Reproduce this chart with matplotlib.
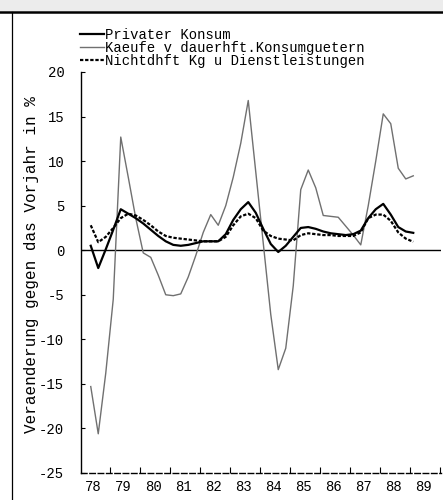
import matplotlib
matplotlib.use("Agg")
import matplotlib.pyplot as plt
from matplotlib.lines import Line2D
from matplotlib.patches import Rectangle
import pandas as pd

plt.rcParams['font.family'] = ['Liberation Mono', 'DejaVu Sans Mono']
plt.rcParams['axes.unicode_minus'] = False

# Quarterly observations 1978Q2 .. 1989Q1
first_quarter = '1978Q2'
last_quarter = '1989Q1'

privater_konsum = [0.5, -2.0, 0.1, 2.3, 4.6, 4.1, 3.6, 3.0, 2.3, 1.6,
                   1.0, 0.6, 0.5, 0.6, 0.8, 1.0, 1.0, 1.0, 1.8, 3.4,
                   4.6, 5.4, 4.2, 2.4, 0.7, -0.2, 0.5, 1.5, 2.5, 2.6,
                   2.4, 2.1, 1.9, 1.8, 1.7, 1.8, 2.2, 3.6, 4.6, 5.2,
                   4.0, 2.6, 2.1, 1.95]

kaeufe_dauerhaft = [-15.3, -20.6, -13.8, -5.5, 12.7, 8.2, 3.6, -0.3, -0.8, -2.8,
                    -5.0, -5.1, -4.9, -3.0, -0.6, 2.0, 4.0, 2.8, 5.0, 8.2,
                    12.0, 16.8, 8.8, 0.8, -7.2, -13.4, -11.0, -4.0, 6.8, 9.0,
                    7.0, 3.9, 3.8, 3.7, 2.7, 1.7, 0.6, 5.0, 10.0, 15.3,
                    14.2, 9.2, 8.0, 8.35]

nichtdauerhaft = [2.8, 0.9, 1.5, 2.5, 3.6, 4.1, 3.9, 3.4, 2.8, 2.1,
                  1.6, 1.4, 1.3, 1.2, 1.1, 1.0, 1.0, 1.0, 1.5, 2.8,
                  3.8, 4.1, 3.6, 2.2, 1.6, 1.3, 1.2, 1.1, 1.7, 1.9,
                  1.8, 1.7, 1.7, 1.6, 1.6, 1.6, 2.0, 3.6, 4.0, 4.0,
                  3.3, 2.0, 1.3, 0.95]

series_labels = ['Privater Konsum',
                 'Kaeufe v dauerhft.Konsumguetern',
                 'Nichtdhft Kg u Dienstleistungen']

year_labels = ['78', '79', '80', '81', '82', '83', '84', '85', '86', '87', '88', '89']
y_ticks = [-25, -20, -15, -10, -5, 0, 5, 10, 15, 20]
y_label = 'Veraenderung gegen das Vorjahr in %'

periods = pd.period_range(first_quarter, last_quarter, freq='Q')
t = [p.year + (p.quarter - 0.5) / 4.0 for p in periods]

W, H = 443, 500
fig = plt.figure(figsize=(W / 100, H / 100), dpi=100)

# scan frame
fig.patches.append(Rectangle((0, 1 - 11 / H), 1, 11 / H, transform=fig.transFigure,
                             facecolor='#ececec', edgecolor='none'))
fig.lines.append(Line2D([0, 1], [1 - 12 / H, 1 - 12 / H], transform=fig.transFigure,
                        color='black', lw=1.8))
fig.lines.append(Line2D([12 / W, 12 / W], [0, 1 - 12 / H], transform=fig.transFigure,
                        color='black', lw=0.9))

ax = fig.add_axes([81 / W, 27 / H, 360 / W, 401 / H])
ax.set_xlim(1978.05, 1990.05)
ax.set_ylim(-25, 20)

ax.axhline(0, color='black', lw=1.0, zorder=1)
l1, = ax.plot(t, privater_konsum, color='black', lw=1.6, zorder=4)
l2, = ax.plot(t, kaeufe_dauerhaft, color='#707070', lw=1.0, zorder=3)
l3, = ax.plot(t, nichtdauerhaft, color='black', lw=1.6, ls=(0, (1.5, 0.8)), zorder=3)

for s in ['top', 'right']:
    ax.spines[s].set_visible(False)
ax.spines['left'].set_linewidth(1.0)
ax.spines['bottom'].set_linewidth(1.0)
ax.spines['bottom'].set_linestyle((0, (4, 2)))

ax.set_yticks(y_ticks)
ax.set_yticklabels([str(v) for v in y_ticks])
ax.tick_params(axis='y', direction='in', length=3, width=0.8, pad=12, labelsize=10)

label_pos = [1978 + i + 0.45 for i in range(len(year_labels))]
ax.set_xticks(label_pos)
ax.set_xticklabels(year_labels)
ax.tick_params(axis='x', which='major', length=0, pad=5, labelsize=10)
ax.set_xticks([1979 + i for i in range(12)], minor=True)
ax.tick_params(axis='x', which='minor', direction='in', length=4, width=0.8)

ax.set_ylabel(y_label, fontsize=11.5)
ax.yaxis.set_label_coords(-0.117, 0.52)

leg = ax.legend([l1, l2, l3], series_labels, loc='upper left',
                bbox_to_anchor=(80 / W, 1 - 28 / H), bbox_transform=fig.transFigure,
                frameon=False, fontsize=10, handlelength=1.7, handletextpad=0.1,
                labelspacing=-0.08, borderpad=0, borderaxespad=0)

fig.savefig('out.png', dpi=100)
